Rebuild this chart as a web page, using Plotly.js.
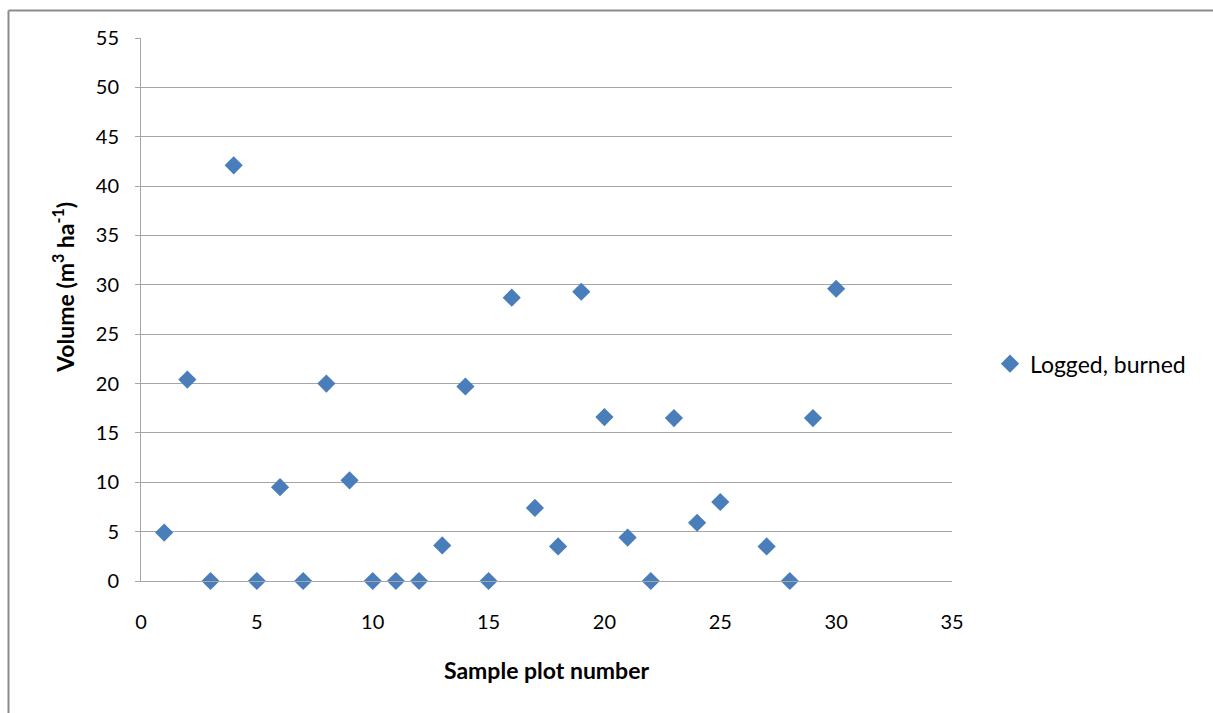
<!DOCTYPE html>
<html>
<head>
<meta charset="utf-8">
<script src="https://cdn.plot.ly/plotly-3.0.1.min.js"></script>
<style>
  html, body { margin: 0; padding: 0; background: #ffffff; }
  #chart { width: 1213px; height: 713px; }
</style>
</head>
<body>
<div id="chart"></div>
<script>
// Sample plot numbers (plot 26 has no value)
const plotNumbers = [1, 2, 3, 4, 5, 6, 7, 8, 9, 10, 11, 12, 13, 14, 15, 16, 17, 18, 19, 20, 21, 22, 23, 24, 25, 27, 28, 29, 30];
// Volume (m3 ha-1), logged and burned
const volumeLoggedBurned = [4.9, 20.4, 0, 42.1, 0, 9.5, 0, 20.0, 10.2, 0, 0, 0, 3.6, 19.7, 0, 28.7, 7.4, 3.5, 29.3, 16.6, 4.4, 0, 16.5, 5.9, 8.0, 3.5, 0, 16.5, 29.6];
const seriesName = "Logged, burned";
const xTickVals = [0, 5, 10, 15, 20, 25, 30, 35];
const yTickVals = [0, 5, 10, 15, 20, 25, 30, 35, 40, 45, 50, 55];

const W = 1213, H = 713;
const L = 141, R = 952, T = 38, B = 581.5;
const px = v => (v - L) / (R - L);
const py = v => (B - v) / (B - T);

const FONT = "Lato, Open Sans, sans-serif";
const GRID = "#a6a6a6";

const trace = {
  type: "scatter",
  mode: "markers",
  x: plotNumbers,
  y: volumeLoggedBurned,
  name: seriesName,
  marker: { symbol: "diamond", size: 14, color: "#4a7ebb", line: { width: 0 } },
  cliponaxis: false,
  showlegend: true
};

const layout = {
  width: W, height: H,
  margin: { l: L, r: W - R, t: T, b: H - B, pad: 0 },
  paper_bgcolor: "#ffffff",
  plot_bgcolor: "#ffffff",
  font: { family: FONT, size: 20, color: "#000000" },
  showlegend: true,
  xaxis: {
    range: [0, 35],
    tickvals: xTickVals,
    ticktext: xTickVals.map(String),
    showgrid: false,
    zeroline: false,
    showline: true,
    linecolor: GRID,
    linewidth: 1,
    ticks: "",
    ticklabelstandoff: 23,
    tickfont: { family: FONT, size: 20, color: "#000" },
    title: { text: "<b>Sample plot number</b>", font: { family: FONT, size: 23, color: "#000" }, standoff: 30 }
  },
  yaxis: {
    range: [0, 55],
    tickvals: yTickVals,
    ticktext: yTickVals.map(String),
    showgrid: true,
    gridcolor: GRID,
    gridwidth: 1,
    zeroline: false,
    showline: true,
    linecolor: GRID,
    linewidth: 1,
    ticks: "outside",
    ticklen: 5,
    tickcolor: GRID,
    ticklabelstandoff: 12,
    tickfont: { family: FONT, size: 20, color: "#000" }
  },
  legend: {
    x: px(990), xanchor: "left",
    y: py(364), yanchor: "middle",
    bgcolor: "rgba(0,0,0,0)",
    borderwidth: 0,
    font: { family: FONT, size: 23, color: "#000" }
  },
  annotations: [{
    text: "<b>Volume (m<sup>3</sup> ha<sup>-1</sup>)</b>",
    xref: "paper", yref: "paper",
    x: px(64), y: py(288),
    xanchor: "center", yanchor: "middle",
    textangle: -90,
    showarrow: false,
    font: { family: FONT, size: 23, color: "#000" }
  }],
  shapes: [
    { type: "line", xref: "paper", yref: "paper", x0: px(8.5), x1: px(8.5), y0: py(10.5), y1: py(720), line: { color: "#8c8c8c", width: 2 }, layer: "above" },
    { type: "line", xref: "paper", yref: "paper", x0: px(8.5), x1: px(1220), y0: py(10.5), y1: py(10.5), line: { color: "#8c8c8c", width: 2 }, layer: "above" }
  ]
};

Plotly.newPlot("chart", [trace], layout, { displayModeBar: false, staticPlot: true });
</script>
</body>
</html>
